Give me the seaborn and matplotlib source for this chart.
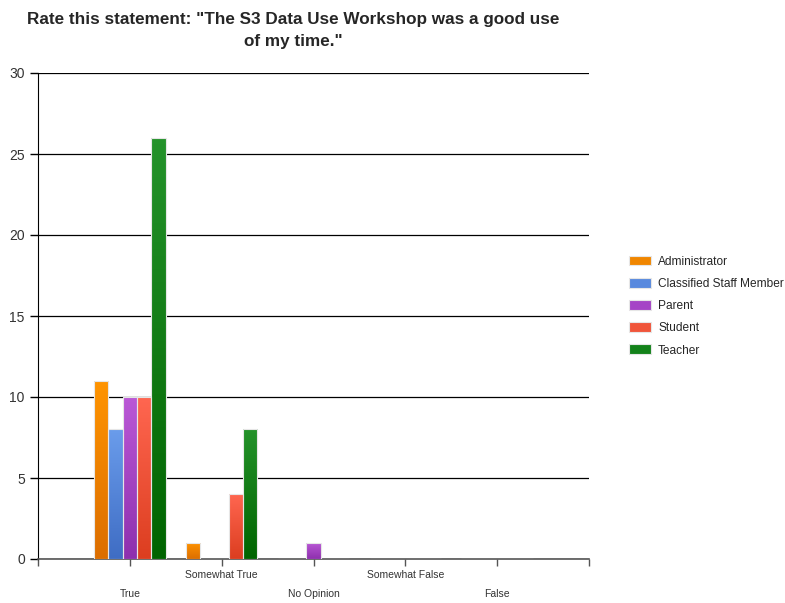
import numpy as np
import pandas as pd
import seaborn as sns
import matplotlib.pyplot as plt
from matplotlib.colors import LinearSegmentedColormap

categories = ["True", "Somewhat True", "No Opinion", "Somewhat False", "False"]
roles = ["Administrator", "Classified Staff Member", "Parent", "Student", "Teacher"]
administrator = [11, 1, 0, 0, 0]
classified_staff = [8, 0, 0, 0, 0]
parent = [10, 0, 1, 0, 0]
student = [10, 4, 0, 0, 0]
teacher = [26, 8, 0, 0, 0]
role_colors = ["#F08600", "#5889DE", "#A544C6", "#F0553A", "#13821A"]
# lighter top / darker bottom for the gradient fill
top_colors = ["#FF9400", "#6A9CEB", "#BA58D6", "#FF6650", "#24922A"]
bottom_colors = ["#DC6E00", "#3F6DC4", "#8E30AE", "#DC3E20", "#006400"]
y_ticks = [0, 5, 10, 15, 20, 25, 30]

rows = []
for role, vals in zip(roles, [administrator, classified_staff, parent, student, teacher]):
    for cat, v in zip(categories, vals):
        rows.append({"category": cat, "role": role, "count": v})
df = pd.DataFrame(rows)

sns.set_style("white")
plt.rcParams["font.family"] = ["Liberation Sans", "DejaVu Sans"]

fig = plt.figure(figsize=(7.85, 6.03), dpi=100)
ax = fig.add_axes([38 / 785, 44 / 603, 551 / 785, 486 / 603])

sns.barplot(data=df, x="category", y="count", hue="role", order=categories,
            hue_order=roles, palette=role_colors, width=0.78, saturation=1,
            edgecolor="#e6e6e6", linewidth=0.8, ax=ax, zorder=3)

# legend first, so it keeps the flat colours
ax.legend(loc="center left", bbox_to_anchor=(618 / 785, 1 - 306 / 603), bbox_transform=fig.transFigure,
          frameon=False, fontsize=8.6, handlelength=1.9, handleheight=0.9,
          labelspacing=0.85, handletextpad=0.55)

# vertical gradient inside each bar
grad = np.linspace(1, 0, 64).reshape(-1, 1)
for i, cont in enumerate(ax.containers):
    cmap = LinearSegmentedColormap.from_list("g%d" % i, [bottom_colors[i], top_colors[i]])
    for p in cont.patches:
        h = p.get_height()
        if h <= 0:
            continue
        x0 = p.get_x()
        w = p.get_width()
        im = ax.imshow(grad, cmap=cmap, aspect="auto", extent=(x0, x0 + w, 0, h),
                       zorder=3.5, vmin=0, vmax=1)
        im.set_clip_path(p)
        p.set_facecolor("none")
        p.set_zorder(4)

ax.set_xlim(-1, 5)
ax.set_ylim(0, 30)
ax.set_yticks(y_ticks)
ax.set_yticklabels([str(t) for t in y_ticks], fontsize=10, color="#333333")
ax.yaxis.grid(True, color="black", linewidth=0.9, zorder=0)
ax.set_axisbelow(True)

ax.set_xticks(range(-1, 6))
xlabels = [""]
for i, c in enumerate(categories):
    xlabels.append(c if i % 2 == 1 else "\n" + c)
xlabels.append("")
ax.set_xticklabels(xlabels, fontsize=7.5, color="#333333", linespacing=2.15)
ax.tick_params(axis="x", length=5, width=1, color="#555555", direction="out", pad=3, bottom=True)
ax.tick_params(axis="y", length=6, width=1, color="black", direction="out", left=True)

for s in ["top", "right"]:
    ax.spines[s].set_visible(False)
ax.spines["left"].set_color("black")
ax.spines["bottom"].set_color("#555555")
ax.spines["bottom"].set_linewidth(1.2)
ax.set_xlabel("")
ax.set_ylabel("")

fig.text(293 / 785, 1 - 30.5 / 603, "Rate this statement: \"The S3 Data Use Workshop was a good use\nof my time.\"",
         ha="center", va="center", fontsize=12.3, fontweight="bold", linespacing=1.6)

fig.savefig("out.png", dpi=100)
plt.close()
